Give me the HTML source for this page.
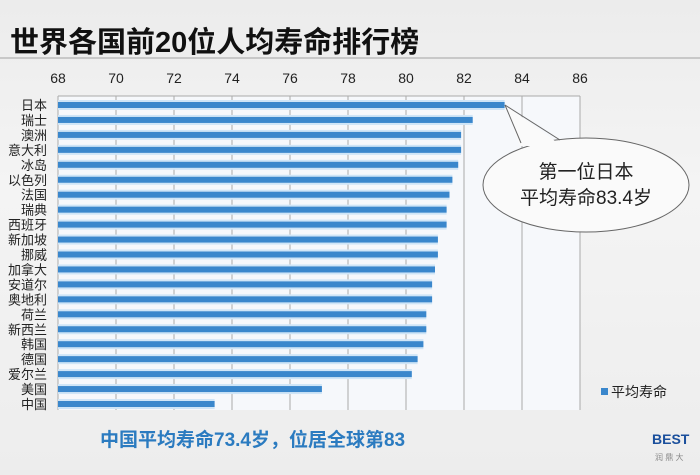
<!DOCTYPE html>
<html><head><meta charset="utf-8"><style>
body{margin:0;width:700px;height:470px;overflow:hidden;background:linear-gradient(#ececec,#f4f4f4 40%,#ededed);font-family:"Liberation Sans","Noto Sans CJK SC",sans-serif;}
svg text{font-family:"Liberation Sans","Noto Sans CJK SC",sans-serif;}
</style></head><body>
<svg id="c" width="700" height="470">
<text x="10" y="52" font-size="29" font-weight="bold" fill="#111">世界各国前20位人均寿命排行榜</text>
<line x1="0" y1="58" x2="700" y2="58" stroke="#c8c8c8" stroke-width="2"/>
<g id="plot"></g>
<g>
<ellipse cx="586" cy="185" rx="103" ry="47" fill="#fafafa" stroke="#666" stroke-width="1"/>
<path d="M505,105 L520,146 L562,146 Z" fill="#fafafa"/>
<line x1="505" y1="105" x2="521" y2="143" stroke="#666"/>
<line x1="505" y1="105" x2="560" y2="140" stroke="#666"/>
</g>
<text x="586" y="178" font-size="19" text-anchor="middle" fill="#222">第一位日本</text>
<text x="586" y="204" font-size="19" text-anchor="middle" fill="#222">平均寿命83.4岁</text>
<rect x="601" y="388" width="7" height="7" fill="#3a87cc"/>
<text x="611" y="397" font-size="14" fill="#222">平均寿命</text>
<text x="100" y="446" font-size="19" font-weight="bold" fill="#2b7bc0">中国平均寿命73.4岁，位居全球第83</text>
<text x="652" y="444" font-size="14" font-weight="bold" fill="#1a4f9c">BEST</text>
<text x="655" y="460" font-size="8" fill="#888">润 鼎 大</text>
</svg>
<script>
const countries=["日本","瑞士","澳洲","意大利","冰岛","以色列","法国","瑞典","西班牙","新加坡","挪威","加拿大","安道尔","奥地利","荷兰","新西兰","韩国","德国","爱尔兰","美国","中国"];
const values=[83.4,82.3,81.9,81.9,81.8,81.6,81.5,81.4,81.4,81.1,81.1,81.0,80.9,80.9,80.7,80.7,80.6,80.4,80.2,77.1,73.4];
const ticks=[68,70,72,74,76,78,80,82,84,86];
const NS="http://www.w3.org/2000/svg";
const g=document.getElementById('plot');
const x0=58,x1=580,yTop=96,yBot=410;
const xs=v=>x0+(v-68)/(86-68)*(x1-x0);
const ys=i=>105+i*(404-105)/(countries.length-1);
function mk(t,a){const e=document.createElementNS(NS,t);for(const k in a)e.setAttribute(k,a[k]);g.appendChild(e);return e;}
const bg=mk('rect',{x:x0,y:yTop,width:x1-x0,height:yBot-yTop,fill:'#f6f8fb'});


ticks.forEach(t=>{
 const l=mk('line',{x1:xs(t),x2:xs(t),y1:yTop,y2:yBot,stroke:'#aaa','stroke-width':1});
 
 
 const tx=mk('text',{x:xs(t),y:83,'font-size':14,'text-anchor':'middle',fill:'#222'});
 tx.textContent=t;
 
 
});
const ax=mk('line',{x1:x0,x2:x1,y1:yTop,y2:yTop,stroke:'#aaa'});


countries.forEach((c,i)=>{
 const y=ys(i);
 const h=mk('rect',{x:x0,y:y-5,width:xs(values[i])-x0,height:10,fill:'#cfe5f7'});
 
 
 const b=mk('rect',{x:x0,y:y-3,width:xs(values[i])-x0,height:6,fill:'#3a87cc'});
 
 
 const t=mk('text',{x:47,y:y+5,'font-size':13,'text-anchor':'end',fill:'#222'});
 t.textContent=c;
 
 
});
</script>
</body></html>
